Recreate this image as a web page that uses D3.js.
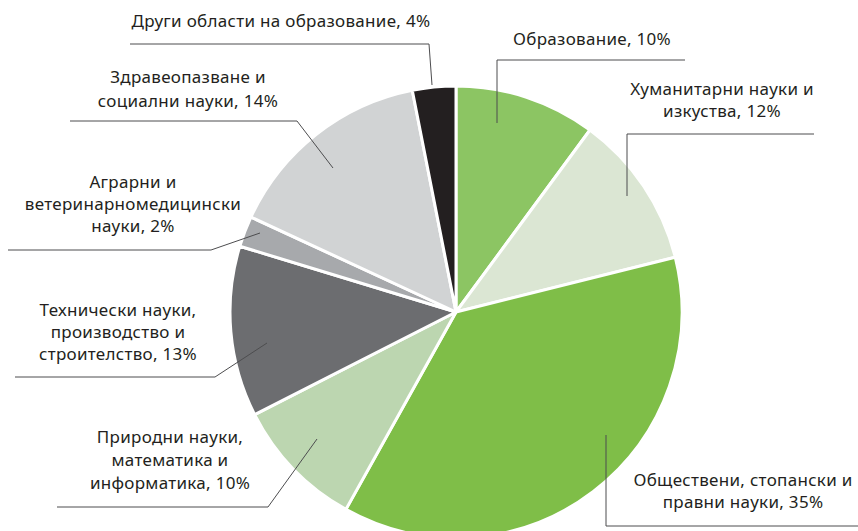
<!DOCTYPE html>
<html lang="bg">
<head>
<meta charset="utf-8">
<script src="https://cdn.jsdelivr.net/npm/d3@7/dist/d3.min.js"></script>
<style>
  html, body { margin: 0; padding: 0; background: #fff; }
  svg { display: block; }
  text { font-family: "Noto Sans", "Open Sans", sans-serif; fill: #231f20; }
</style>
</head>
<body>
<svg id="chart" width="858" height="531" lang="bg"></svg>
<script>
// ---- data ----
const categories = [
  "Образование",
  "Хуманитарни науки и изкуства",
  "Обществени, стопански и правни науки",
  "Природни науки, математика и информатика",
  "Технически науки, производство и строителство",
  "Аграрни и ветеринарномедицински науки",
  "Здравеопазване и социални науки",
  "Други области на образование"
];
// slice shares as drawn in the picture (%)
const shares = [10.1, 11.0, 37.0, 9.4, 12.2, 2.2, 15.0, 3.1];
// percentages printed in the labels
const labelPercents = [10, 12, 35, 10, 13, 2, 14, 4];
const labelLines = [
  ["Образование, 10%"],
  ["Хуманитарни науки и", "изкуства, 12%"],
  ["Обществени, стопански и", "правни науки, 35%"],
  ["Природни науки,", "математика и", "информатика, 10%"],
  ["Технически науки,", "производство и", "строителство, 13%"],
  ["Аграрни и", "ветеринарномедицински", "науки, 2%"],
  ["Здравеопазване и", "социални науки, 14%"],
  ["Други области на образование, 4%"]
];
const colors = ["#8cc563", "#dbe6d3", "#7fbe48", "#bcd6b0", "#6c6d70", "#a7a9ac", "#d1d3d4", "#231f20"];

// ---- layout ----
const cx = 456, cy = 312, R = 226;
const labelLayout = [
  { x: 592, y: 45,  dy: 23, leader: [[685, 60], [497, 60], [497, 123]] },
  { x: 722, y: 95,  dy: 22, leader: [[814, 134], [627, 134], [627, 196]] },
  { x: 743, y: 486, dy: 22, leader: [[858, 526], [606, 526], [606, 435]] },
  { x: 170, y: 443, dy: 23, leader: [[57, 507], [268, 507], [317, 439]] },
  { x: 118, y: 316, dy: 22, leader: [[15, 377], [215, 377], [267, 343]] },
  { x: 133, y: 188, dy: 22, leader: [[8, 250], [211, 250], [260, 233]] },
  { x: 188, y: 83,  dy: 24, leader: [[70, 121], [297, 121], [333, 168]] },
  { x: 281, y: 27,  dy: 22, leader: [[130, 44], [429, 44], [432, 85]] }
];

const svg = d3.select("#chart");

const pie = d3.pie().sort(null).value(d => d).startAngle(0).endAngle(2 * Math.PI);
const arc = d3.arc().innerRadius(0).outerRadius(R);
const color = d3.scaleOrdinal().domain(d3.range(categories.length)).range(colors);

const g = svg.append("g").attr("transform", `translate(${cx},${cy})`);
g.selectAll("path")
  .data(pie(shares))
  .join("path")
  .attr("d", arc)
  .attr("fill", (d, i) => color(i))
  .attr("stroke", "#fff")
  .attr("stroke-width", 3)
  .attr("stroke-linejoin", "round");

// leader lines
const line = d3.line();
svg.append("g").selectAll("path")
  .data(labelLayout)
  .join("path")
  .attr("d", d => line(d.leader))
  .attr("fill", "none")
  .attr("stroke", "#4d4d4f")
  .attr("stroke-width", 1);

// labels
const lg = svg.append("g");
labelLines.forEach((lines, i) => {
  const L = labelLayout[i];
  const t = lg.append("text")
    .attr("text-anchor", "middle")
    .attr("font-size", 17)
    .attr("letter-spacing", 0.3);
  lines.forEach((s, k) => {
    t.append("tspan").attr("x", L.x).attr("y", L.y + k * L.dy).text(s);
  });
});
</script>
</body>
</html>
